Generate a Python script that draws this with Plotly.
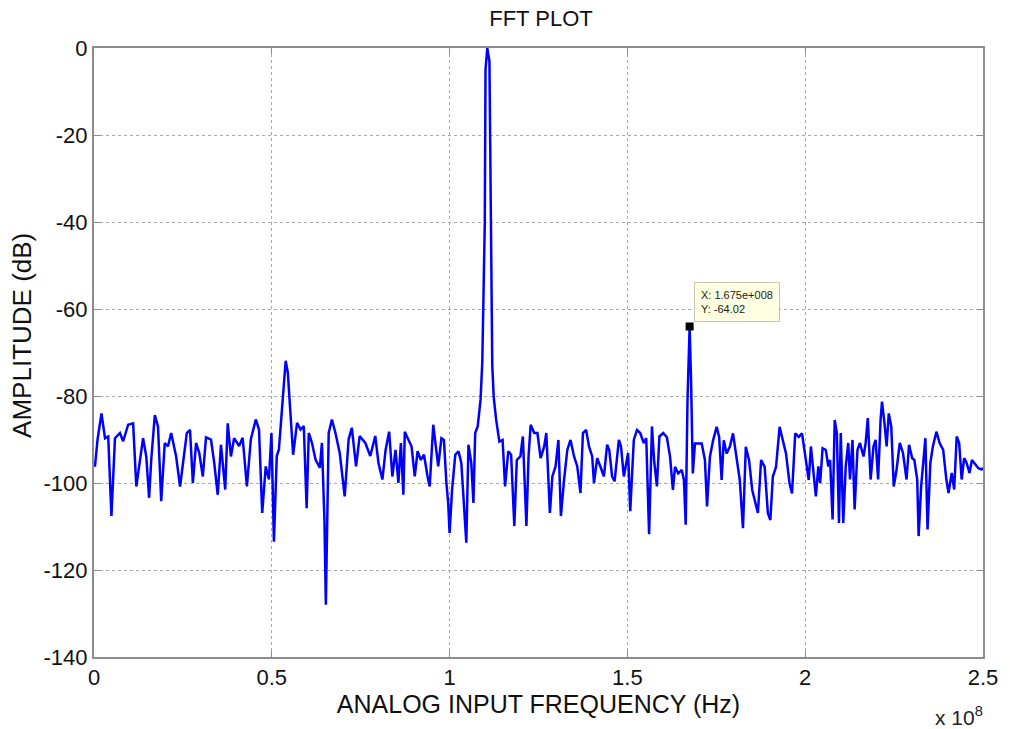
import plotly.graph_objects as go

# Spectrum trace: frequency (MHz) and amplitude (dB)
freq_mhz = [
    0.0, 0.3, 1.0, 2.1, 3.1, 4.0, 4.9, 5.9, 7.3, 8.2, 9.6, 11.0, 11.9, 12.9, 13.8, 14.7,
    15.5, 16.1, 17.1, 18.0, 18.9, 19.9, 20.8, 21.7, 23.1, 24.2, 25.2, 26.1, 27.0, 27.8,
    28.7, 29.6, 30.6, 31.5, 32.9, 33.8, 34.8, 35.7, 36.9, 37.6, 38.5, 39.4, 40.8, 41.8,
    43.0, 44.1, 45.5, 46.4, 47.3, 48.3, 49.2, 49.9, 50.6, 51.4, 52.0, 52.9, 53.9, 54.5,
    55.3, 56.0, 57.1, 58.1, 59.0, 59.8, 60.4, 61.3, 62.3, 63.5, 64.1, 64.8, 65.2, 66.0,
    66.9, 67.9, 69.1, 70.5, 71.6, 72.5, 73.7, 74.7, 76.3, 77.7, 79.1, 80.0, 81.1, 82.0,
    83.0, 83.9, 84.8, 85.6, 86.3, 87.0, 87.4, 88.4, 89.3, 90.2, 91.0, 91.9, 92.8, 93.8,
    94.4, 95.4, 96.1, 96.8, 97.7, 98.4, 99.1, 99.6, 100.0, 100.7, 101.6, 102.5, 103.3,
    104.1, 104.7, 105.3, 106.1, 106.7, 107.2, 107.9, 108.7, 109.2, 109.6, 109.9, 110.1,
    110.6, 111.2, 111.6, 112.0, 112.4, 113.1, 114.0, 114.9, 115.6, 116.5, 117.3, 118.2,
    118.9, 119.9, 120.6, 121.0, 121.6, 122.2, 122.8, 123.8, 124.7, 125.6, 126.6, 127.2,
    128.2, 128.9, 129.8, 130.6, 131.3, 132.2, 133.1, 134.0, 135.0, 135.9, 136.8, 137.5,
    138.4, 139.2, 140.1, 140.6, 141.5, 142.4, 143.4, 144.3, 144.9, 145.7, 146.4, 147.6,
    148.2, 149.0, 149.6, 150.2, 150.8, 151.8, 152.7, 153.6, 154.6, 155.3, 156.1, 156.9,
    157.5, 158.3, 159.0, 160.1, 161.1, 162.0, 162.8, 163.4, 164.3, 165.3, 165.9, 166.4,
    166.9, 167.5, 167.9, 168.4, 169.0, 169.9, 170.9, 171.8, 172.4, 173.2, 174.1, 175.1,
    175.8, 176.5, 177.1, 177.9, 178.8, 179.7, 180.6, 181.6, 182.5, 183.3, 184.2, 185.1,
    185.8, 186.7, 187.6, 188.6, 189.5, 190.2, 190.9, 191.8, 192.8, 193.7, 194.6, 195.6,
    196.3, 197.2, 198.2, 199.1, 200.0, 201.0, 201.6, 202.4, 203.0, 203.7, 204.2, 204.9,
    205.8, 206.5, 207.0, 207.7, 208.3, 208.9, 209.5, 210.0, 210.7, 211.4, 212.1, 212.6,
    213.3, 213.9, 214.7, 215.4, 216.4, 217.0, 217.6, 218.4, 219.2, 219.8, 220.5, 221.2,
    221.6, 222.3, 222.9, 223.5, 224.2, 224.9, 225.7, 226.6, 227.5, 228.5, 229.2, 230.1,
    230.7, 231.5, 231.9, 232.6, 233.3, 233.8, 234.4, 235.2, 235.9, 236.9, 237.8, 238.8,
    239.7, 240.3, 241.2, 241.9, 242.6, 243.3, 244.0, 244.7, 245.4, 246.2, 246.9, 247.8,
    248.7, 249.6, 250.0,
]

amp_db = [
    -96, -96, -90, -84, -89.7, -89.3, -107.6, -89.7, -88.5, -90.4, -86.6, -86.3, -100.8, -95.5, -89.7, -93.9,
    -103.4, -94.6, -84.4, -87.0, -104.2, -90.8, -91.6, -88.5, -93.9, -100.8, -93.9, -88.5, -87.8, -100.0,
    -90.8, -93.1, -98.5, -89.5, -90.0, -95.3, -102.7, -91.2, -101.5, -86.3, -93.9, -89.7, -91.5, -89.6,
    -100.8, -90, -85.4, -87.7, -106.9, -96.2, -99.2, -88.5, -113.5, -93.8, -92.3, -82.3, -71.9, -74.6,
    -86.2, -93.5, -86.2, -87.7, -86.9, -105.8, -88.5, -90.8, -94.6, -96.5, -90.8, -108.5, -128, -88.5,
    -85.4, -88.5, -93.1, -103.1, -90, -87.3, -96.2, -89.2, -90.8, -93.8, -89.2, -95.4, -99.2, -92.4,
    -88.2, -98.5, -92.4, -100, -90.8, -102.7, -88.2, -90.1, -91.6, -98.5, -92.7, -94.7, -93.5, -98.5,
    -100.8, -86.6, -91.6, -96.2, -89.7, -90.1, -100, -104.6, -111.5, -101.5, -93.5, -92.7, -95.4,
    -106.9, -113.7, -91.2, -95.4, -104.6, -88.5, -87.0, -80.9, -72, -55, -40, -5,
    0, -3, -40, -73, -80.2, -85.5, -90.5, -90.1, -100.8, -92.7, -93.5, -109.9,
    -94.7, -93.9, -89.3, -99.2, -109.9, -93.9, -86.6, -88.5, -88.5, -94.3, -91.6, -88.5,
    -106.9, -98.5, -96.2, -90.1, -107.6, -99.2, -92.4, -90.1, -93.9, -96.2, -102.3, -88.5,
    -87.8, -91.6, -93.9, -100, -94.3, -96.2, -98.5, -91.2, -92.4, -98.5, -99.6, -90.1,
    -91.6, -98.5, -96.2, -93.1, -106.5, -90.1, -87.8, -88.5, -90.8, -89.7, -111.8, -87.0,
    -94.7, -100.8, -89.3, -88.5, -89.5, -94.0, -101.6, -96.3, -97.8, -97.0, -99.3, -109.6,
    -81.0, -64.02, -76.4, -97.8, -90.9, -90.9, -90.9, -94.7, -105.4, -94.0, -90.2, -87.1,
    -89.4, -99.3, -90.2, -93.2, -91.7, -88.6, -93.2, -99.3, -110.4, -91.7, -94.7, -101.6,
    -103.9, -106.9, -94.7, -96.3, -106.9, -108.5, -98.5, -96.3, -87.1, -90.2, -93.2, -100.1,
    -102.4, -88.6, -89.4, -88.6, -93.2, -99.3, -91.6, -98.5, -103.1, -96.2, -100, -92.0,
    -92.4, -96.2, -94.7, -108.4, -85.5, -88.5, -109.2, -88.5, -109.2, -96.2, -90.8, -99.2,
    -90.1, -106.1, -92.4, -90.8, -93.9, -90.8, -85.1, -99.2, -91.6, -90.1, -99.2, -85.5,
    -81.3, -86.3, -91.6, -84.0, -87.0, -100.8, -96.9, -90.8, -93.1, -99.2, -91.2, -94.3,
    -94.7, -99.2, -112.2, -100.8, -93.9, -89.7, -110.7, -95.4, -91.6, -88.2, -90.8, -92.4,
    -99.2, -102.3, -97.7, -101.5, -89.3, -90.8, -99.2, -94.3, -95.4, -97.7, -94.7, -95.8,
    -96.6, -96.9, -96.5,
]

# Data cursor on the spur
tip_freq_hz = 1.675e8
tip_amp_db = -64.02

x_tick_vals = [0, 0.5e8, 1.0e8, 1.5e8, 2.0e8, 2.5e8]
x_tick_text = ["0", "0.5", "1", "1.5", "2", "2.5"]
y_tick_vals = [0, -20, -40, -60, -80, -100, -120, -140]
y_tick_text = ["0", "-20", "-40", "-60", "-80", "-100", "-120", "-140"]

freq_hz = [f * 1e6 for f in freq_mhz]

FONT = "Arial, Liberation Sans, Helvetica, sans-serif"

fig = go.Figure()
fig.add_trace(go.Scatter(
    x=freq_hz, y=amp_db, mode="lines",
    line=dict(color="#0000ff", width=2.5),
    showlegend=False, hoverinfo="skip",
))
fig.add_trace(go.Scatter(
    x=[tip_freq_hz], y=[tip_amp_db], mode="markers",
    marker=dict(symbol="square", size=8, color="black"),
    showlegend=False, hoverinfo="skip",
))

fig.add_annotation(
    x=tip_freq_hz, y=tip_amp_db, xref="x", yref="y",
    text=f"X: {tip_freq_hz:.3e}".replace("e+08", "e+008") + f"<br>Y: {tip_amp_db:.2f}",
    showarrow=False, xanchor="left", yanchor="bottom", xshift=4, yshift=4,
    align="left", font=dict(family=FONT, size=11, color="#222"),
    bgcolor="#ffffe1", bordercolor="#c8c8b0", borderwidth=1, borderpad=6,
)

# Axis exponent label below the right end of the x axis
fig.add_annotation(
    x=1.0022, y=-0.097, xref="paper", yref="paper", text="x 10<sup>8</sup>",
    showarrow=False, xanchor="right", yanchor="middle",
    font=dict(family=FONT, size=21, color="#222"),
)

# Vertical axis label
fig.add_annotation(
    x=-0.0805, y=0.528, xref="paper", yref="paper", text="AMPLITUDE (dB)",
    textangle=-90, showarrow=False, xanchor="center", yanchor="middle",
    font=dict(family=FONT, size=26, color="#111"),
)

axis_common = dict(
    showline=True, linecolor="#8c8c8c", linewidth=2, mirror="ticks",
    ticks="inside", ticklen=6, tickcolor="#8c8c8c", tickwidth=1,
    showgrid=True, gridcolor="#a8a8a8", griddash="dot", gridwidth=1,
    zeroline=False, tickfont=dict(family=FONT, size=22, color="#111"),
)

fig.update_xaxes(
    range=[0, 2.5e8], tickvals=x_tick_vals, ticktext=x_tick_text,
    title=dict(text="ANALOG INPUT FREQUENCY (Hz)", standoff=2,
               font=dict(family=FONT, size=25, color="#111")),
    **axis_common,
)
fig.update_yaxes(
    range=[-140, 0], tickvals=y_tick_vals, ticktext=y_tick_text,
    **axis_common,
)

fig.update_layout(
    width=1010, height=729,
    margin=dict(l=94, r=22, t=48, b=72),
    paper_bgcolor="white", plot_bgcolor="white",
    title=dict(text="FFT PLOT", x=0.5356, xanchor="center", y=0.975, yanchor="middle",
               font=dict(family=FONT, size=22, color="#111")),
)

fig.write_html("out.html")
